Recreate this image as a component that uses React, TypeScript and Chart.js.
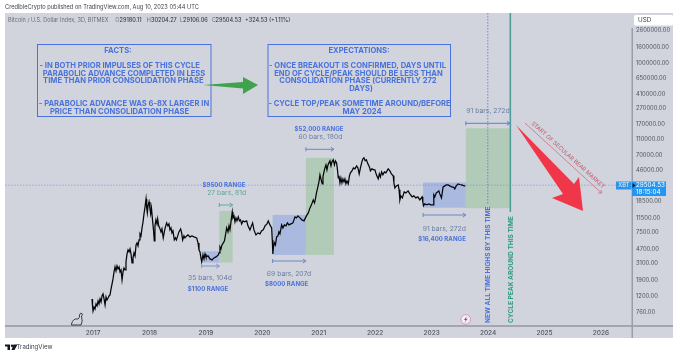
import React, { useEffect, useRef } from "react";
import { Chart, registerables } from "chart.js";

Chart.register(...registerables);

const barYear = [2016.982,2016.991,2017.000,2017.018,2017.035,2017.053,2017.071,2017.089,2017.106,2017.124,2017.142,2017.159,2017.177,2017.195,2017.213,2017.230,2017.248,2017.266,2017.283,2017.301,2017.319,2017.337,2017.354,2017.372,2017.390,2017.407,2017.425,2017.443,2017.461,2017.478,2017.496,2017.514,2017.531,2017.549,2017.567,2017.584,2017.602,2017.620,2017.638,2017.655,2017.673,2017.691,2017.708,2017.726,2017.744,2017.762,2017.779,2017.797,2017.815,2017.832,2017.850,2017.868,2017.886,2017.903,2017.921,2017.939,2017.951,2017.962,2017.974,2017.992,
2018.009,2018.021,2018.035,2018.057,2018.071,2018.085,2018.097,2018.115,2018.133,2018.145,2018.163,2018.181,2018.204,2018.221,2018.244,2018.266,2018.283,2018.304,2018.327,2018.345,2018.363,2018.381,2018.398,2018.416,2018.440,2018.460,2018.478,2018.500,2018.522,2018.552,2018.570,2018.588,2018.611,2018.629,2018.659,2018.682,2018.718,2018.753,2018.789,2018.836,2018.860,2018.877,2018.895,2018.912,2018.925,2018.948,2018.966,2018.984,
2019.001,2019.037,2019.072,2019.108,2019.143,2019.179,2019.220,2019.232,2019.249,2019.267,2019.285,2019.308,2019.329,2019.347,2019.368,2019.391,2019.409,2019.426,2019.444,2019.467,2019.479,2019.497,2019.515,2019.532,2019.550,2019.573,2019.594,2019.612,2019.633,2019.656,2019.683,2019.722,2019.745,2019.780,2019.807,2019.828,2019.851,2019.887,2019.922,2019.958,2019.985,
2020.016,2020.047,2020.082,2020.105,2020.135,2020.165,2020.176,2020.186,2020.197,2020.214,2020.232,2020.253,2020.276,2020.294,2020.312,2020.342,2020.365,2020.391,2020.418,2020.445,2020.471,2020.507,2020.542,2020.578,2020.604,2020.631,2020.667,2020.702,2020.738,2020.764,2020.791,2020.814,2020.844,2020.870,2020.902,2020.924,2020.941,2020.959,2020.980,
2021.003,2021.021,2021.038,2021.061,2021.074,2021.092,2021.109,2021.127,2021.145,2021.163,2021.180,2021.198,2021.216,2021.233,2021.256,2021.278,2021.295,2021.316,2021.331,2021.345,2021.357,2021.375,2021.392,2021.410,2021.428,2021.446,2021.463,2021.481,2021.499,2021.522,2021.543,2021.561,2021.587,2021.614,2021.641,2021.670,2021.693,2021.716,2021.738,2021.764,2021.782,2021.800,2021.822,2021.844,2021.870,2021.897,2021.915,2021.941,2021.977,2021.994,
2022.021,2022.053,2022.074,2022.092,2022.113,2022.136,2022.163,2022.189,2022.230,2022.260,2022.287,2022.319,2022.331,2022.349,2022.375,2022.407,2022.423,2022.437,2022.455,2022.481,2022.513,2022.542,2022.583,2022.613,2022.654,2022.684,2022.719,2022.755,2022.790,2022.831,2022.843,2022.855,2022.878,2022.914,2022.949,2022.985,
2023.026,2023.038,2023.056,2023.082,2023.109,2023.127,2023.144,2023.174,2023.203,2023.233,2023.259,2023.291,2023.321,2023.356,2023.392,2023.409,2023.436,2023.468,2023.498,2023.533,2023.574,2023.586];

const barClose = [1107,904,782,878,829,958,904,1045,958,1107,1015,1207,1279,1107,930,1173,1075,1139,1207,1243,1478,1708,1973,2415,2790,2486,2872,2633,2790,2415,2558,1917,2415,2711,2558,3223,4061,4558,4303,4692,4061,3132,3618,4180,3833,5266,5579,5116,6084,7235,6829,8603,10230,12888,15775,19874,15326,13266,16237,18224,
14890,12888,15326,10230,8120,5911,9115,10838,9656,11156,9115,8603,7665,8359,6446,7890,8855,9939,9115,9656,8120,8603,7447,7890,6084,6446,6084,6829,7665,8359,7447,6084,6829,6446,6829,7029,6635,6829,6635,6446,5579,4558,4303,3618,3223,3945,3515,4061,
3724,3833,3515,3415,3618,3724,3945,4180,4971,4692,5266,5579,5911,7029,8603,7665,9115,8120,10230,13654,11483,12165,10230,11483,10530,11819,10530,10838,9656,10530,10230,10530,9115,8120,9115,9939,8120,7029,7447,7235,7890,
8120,9115,9656,10530,9382,8603,6084,4061,4971,5579,5266,6635,6829,7665,7235,9382,8603,9382,9115,9939,9382,9656,9939,11819,11483,12165,11483,10838,10530,11483,12522,13266,15326,16713,19307,17706,19874,23633,27303,
32468,39740,35405,30646,37510,43338,48645,53044,45915,53044,56198,59539,51537,57848,61287,53044,59539,56198,45915,36444,38611,31543,36444,31543,35405,32468,35405,30646,33418,30646,38611,42103,44606,48645,47258,51537,48645,40906,48645,57848,63079,64931,59539,61287,54601,50068,44606,47258,45915,45915,
39740,35405,40906,37510,43338,39740,43338,42103,47258,44606,40906,38611,31543,27303,28927,29773,25771,19307,21671,20455,24325,23633,25037,22960,21055,21671,20455,21055,19307,21055,18224,16237,17202,16713,17202,16713,
16713,22307,21055,23633,24325,25037,22960,20455,28102,28927,29773,29773,28927,28102,27700,26526,28927,30646,30100,29773,28927,29504.53];

const yearTicks = [2017, 2018, 2019, 2020, 2021, 2022, 2023, 2024, 2025, 2026];
const priceTicks = [2600000, 1600000, 1000000, 650000, 410000, 270000, 170000, 110000, 70000, 46000, 18500, 11500, 7500, 4700, 3100, 1900, 1200, 760];
const lastPrice = 29504.53;

const rangeBoxStart = [2018.925, 2019.237, 2020.182, 2020.772, 2022.849, 2023.606];
const rangeBoxEnd = [2019.237, 2019.474, 2020.772, 2021.268, 2023.606, 2024.385];
const rangeBoxHigh = [4382, 14055, 12522, 64931, 31900, 152400];
const rangeBoxLow = [3160, 3160, 3945, 3945, 15400, 15200];
const rangeBoxKind = ["blue", "green", "blue", "green", "blue", "green"];

const athYear = 2023.995;
const peakYear = 2024.394;

const factsLines: [string, number, number][] = [
  ["FACTS:", 118, 51],
  ["- IN BOTH PRIOR IMPULSES OF THIS CYCLE", 119.7, 66],
  ["PARABOLIC ADVANCE COMPLETED IN LESS", 124, 73.5],
  ["TIME THAN PRIOR CONSOLIDATION PHASE", 123.3, 81],
  ["- PARABOLIC ADVANCE WAS 6-8X LARGER IN", 124, 104],
  ["PRICE THAN CONSOLIDATION PHASE", 119.5, 112],
];
const expectationLines: [string, number, number][] = [
  ["EXPECTATIONS:", 359, 51],
  ["- ONCE BREAKOUT IS CONFIRMED, DAYS UNTIL", 357.5, 66],
  ["END OF CYCLE/PEAK SHOULD BE LESS THAN", 358.5, 73.5],
  ["CONSOLIDATION PHASE (CURRENTLY 272", 358, 81],
  ["DAYS)", 361, 89],
  ["- CYCLE TOP/PEAK SOMETIME AROUND/BEFORE", 359.5, 104],
  ["MAY 2024", 362, 112],
];
const rangeLabels: [string, number, number][] = [
  ["$1100 RANGE", 208, 289],
  ["$9500 RANGE", 224, 185],
  ["$8000 RANGE", 286.7, 283.7],
  ["$52,000 RANGE", 319, 129],
  ["$16,400 RANGE", 442, 239],
];
const barLabels: [string, number, number, string][] = [
  ["35 bars, 104d", 210, 278, "#6a7ea3"],
  ["27 bars, 81d", 226.7, 193, "#5fa69c"],
  ["69 bars, 207d", 289, 274, "#6a7ea3"],
  ["60 bars, 180d", 320.5, 137.3, "#6a7ea3"],
  ["91 bars, 272d", 444.3, 228.7, "#6a7ea3"],
  ["91 bars, 272d", 488, 111, "#6a7ea3"],
];

const FONT = "Inter, 'Noto Sans', sans-serif";
const BLUE = "#4a72dc";
const TEAL = "#2f9a84";

function App() {
  const ref = useRef<HTMLCanvasElement | null>(null);
  useEffect(() => {
    if (!ref.current) return;

    const text = (c: CanvasRenderingContext2D, s: string, x: number, y: number, font: string, color: string, align: CanvasTextAlign = "center") => {
      c.font = font;
      c.fillStyle = color;
      c.textAlign = align;
      c.textBaseline = "middle";
      c.fillText(s, x, y);
    };
    const fit = (c: CanvasRenderingContext2D, s: string, weight: number, width: number) => {
      c.font = `${weight} 10px ${FONT}`;
      const size = (10 * width) / c.measureText(s).width;
      return `${weight} ${size}px ${FONT}`;
    };
    const spanArrow = (c: CanvasRenderingContext2D, x0: number, x1: number, y: number, color: string) => {
      c.strokeStyle = color;
      c.lineWidth = 1;
      c.beginPath();
      c.moveTo(x0, y - 2);
      c.lineTo(x0, y + 2);
      c.moveTo(x0, y);
      c.lineTo(x1, y);
      c.moveTo(x1 - 3, y - 2);
      c.lineTo(x1, y);
      c.lineTo(x1 - 3, y + 2);
      c.stroke();
    };
    const poly = (c: CanvasRenderingContext2D, pts: number[][], color: string) => {
      c.fillStyle = color;
      c.beginPath();
      pts.forEach(([x, y], i) => (i ? c.lineTo(x, y) : c.moveTo(x, y)));
      c.closePath();
      c.fill();
    };

    const underlay = {
      id: "underlay",
      beforeDraw(ch: any) {
        const c = ch.ctx as CanvasRenderingContext2D;
        c.save();
        c.fillStyle = "#ffffff";
        c.fillRect(0, 0, 680, 356);
        c.fillStyle = "#d1d4dc";
        c.fillRect(5, 13, 668, 325);
        c.restore();
      },
      beforeDatasetsDraw(ch: any) {
        const c = ch.ctx as CanvasRenderingContext2D;
        const xs = ch.scales.x;
        const ys = ch.scales.y;
        c.save();
        rangeBoxKind.forEach((k, i) => {
          const x0 = xs.getPixelForValue(rangeBoxStart[i]);
          const x1 = xs.getPixelForValue(rangeBoxEnd[i]);
          const y0 = ys.getPixelForValue(rangeBoxHigh[i]);
          const y1 = ys.getPixelForValue(rangeBoxLow[i]);
          c.fillStyle = k === "blue" ? "#a9b9df" : "#b2cbb8";
          c.fillRect(x0, y0, x1 - x0, y1 - y0);
        });
        const py = ys.getPixelForValue(lastPrice);
        c.strokeStyle = "rgba(74,120,220,0.45)";
        c.lineWidth = 1;
        c.setLineDash([1.5, 1.5]);
        c.beginPath();
        c.moveTo(5, py);
        c.lineTo(632, py);
        c.stroke();
        const ax = xs.getPixelForValue(athYear);
        c.strokeStyle = "rgba(74,114,220,0.75)";
        c.beginPath();
        c.moveTo(ax, 13);
        c.lineTo(ax, 205);
        c.stroke();
        c.setLineDash([]);
        c.restore();
      },
      afterDatasetsDraw(ch: any) {
        const c = ch.ctx as CanvasRenderingContext2D;
        const xs = ch.scales.x;
        c.save();

        const px = xs.getPixelForValue(peakYear);
        c.strokeStyle = "#4f9e95";
        c.lineWidth = 1.6;
        c.beginPath();
        c.moveTo(px, 13);
        c.lineTo(px, 212);
        c.stroke();

        // axis lines
        c.fillStyle = "#a3a6ae";
        c.fillRect(5, 325, 668, 2);
        c.fillStyle = "#9a9da6";
        c.fillRect(631.5, 28, 1.5, 310);

        // header
        const head = "CredibleCrypto published on TradingView.com, Aug 10, 2023 05:44 UTC";
        text(c, head, 5, 7.5, fit(c, head, 400, 194), "#3c3f48", "left");
        const legend: [string, string, number][] = [
          ["Bitcoin / U.S. Dollar Index, 3D, BITMEX", "#6a6d78", 8],
          ["O", "#6a6d78", 115.2],
          ["29180.11", "#3a3d47", 119.5],
          ["H", "#6a6d78", 146.7],
          ["30204.27", "#3a3d47", 151],
          ["L", "#6a6d78", 180],
          ["29106.06", "#3a3d47", 183],
          ["C", "#6a6d78", 211.7],
          ["29504.53", "#3a3d47", 215.5],
          ["+324.53 (+1.11%)", "#3a3d47", 245],
        ];
        legend.forEach(([s, col, x]) => text(c, s, x, 20.5, `${col === "#3a3d47" ? 500 : 400} 5.55px ${FONT}`, col, "left"));

        // boxes
        c.strokeStyle = BLUE;
        c.lineWidth = 1;
        c.strokeRect(37.5, 44.5, 173.5, 72);
        c.strokeRect(268, 44.5, 182.5, 72);
        factsLines.forEach(([s, x, y]) => text(c, s, x, y, `700 7.6px ${FONT}`, BLUE));
        expectationLines.forEach(([s, x, y]) => text(c, s, x, y, `700 7.6px ${FONT}`, BLUE));

        // green arrow
        poly(c, [[203, 85], [243, 82], [243, 77], [258, 85], [243, 94], [243, 88.5]], "#3fa34d");

        // span arrows, from the range boxes
        const edge = (v: number) => xs.getPixelForValue(v);
        spanArrow(c, edge(rangeBoxStart[0]), edge(rangeBoxEnd[0]), 266, "#7f95c8");
        spanArrow(c, edge(rangeBoxStart[1]), edge(rangeBoxEnd[1]), 205, "#63a99d");
        spanArrow(c, edge(rangeBoxStart[2]), edge(rangeBoxEnd[2]), 261, "#6a86c8");
        spanArrow(c, edge(rangeBoxStart[3]), edge(rangeBoxEnd[3]), 149.3, "#6a86c8");
        spanArrow(c, edge(rangeBoxStart[4]), edge(rangeBoxEnd[4]), 215, "#6a86c8");
        spanArrow(c, edge(rangeBoxStart[5]), edge(rangeBoxEnd[5]), 123.3, "#5a7ed8");

        rangeLabels.forEach(([s, x, y]) => text(c, s, x, y, `700 6.1px ${FONT}`, BLUE));
        barLabels.forEach(([s, x, y, col]) => text(c, s, x, y, `400 6.8px ${FONT}`, col));

        // vertical captions
        const cap1 = "NEW ALL TIME HIGHS BY THIS TIME";
        const cap2 = "CYCLE PEAK AROUND THIS TIME";
        c.save();
        c.translate(488, 323);
        c.rotate(-Math.PI / 2);
        text(c, cap1, 0, 0, fit(c, cap1, 700, 117), BLUE, "left");
        c.restore();
        c.save();
        c.translate(511, 323);
        c.rotate(-Math.PI / 2);
        text(c, cap2, 0, 0, fit(c, cap2, 700, 107), TEAL, "left");
        c.restore();

        // red arrow
        poly(c, [[516, 125], [574, 184], [579, 177], [583, 211], [552, 198], [563, 194]], "#f0374a");

        // bear-market caption
        c.strokeStyle = "#cf6c7e";
        c.lineWidth = 0.8;
        c.beginPath();
        c.moveTo(525, 123);
        c.lineTo(601.5, 193);
        c.moveTo(598, 193);
        c.lineTo(601.5, 193);
        c.lineTo(601, 190);
        c.stroke();
        const cap3 = "START OF SECULAR BEAR MARKET";
        c.save();
        c.translate(568, 155);
        c.rotate((42 * Math.PI) / 180);
        text(c, cap3, 0, 0, fit(c, cap3, 400, 97), "#c25a6e");
        c.restore();

        // current-price tags
        c.fillStyle = "#2e94e6";
        c.fillRect(616, 181.5, 15.5, 8);
        text(c, "XBT", 623.8, 185.7, `400 5.8px ${FONT}`, "#e8f2fc");
        c.fillStyle = "#2196f3";
        c.fillRect(632, 181.5, 34, 14.5);
        poly(c, [[632.5, 183], [635.5, 185.5], [632.5, 188]], "#131722");
        text(c, "29504.53", 636, 185.5, `400 6.3px ${FONT}`, "#ffffff", "left");
        text(c, "18:15:04", 636, 192, `400 6.3px ${FONT}`, "#ffffff", "left");

        // USD chip
        c.fillStyle = "#ffffff";
        c.beginPath();
        c.roundRect(634, 15, 39, 10.5, 1.5);
        c.fill();
        text(c, "USD", 638, 20.5, `400 6.3px ${FONT}`, "#3a3d47", "left");

        // dino
        c.strokeStyle = "#2a2e39";
        c.lineWidth = 0.9;
        c.beginPath();
        c.moveTo(71.5, 324);
        c.quadraticCurveTo(73, 318, 78, 319);
        c.quadraticCurveTo(80, 318, 79.5, 315);
        c.quadraticCurveTo(80, 312.5, 82, 313.5);
        c.quadraticCurveTo(83, 315, 81.5, 316);
        c.quadraticCurveTo(83, 322, 81, 325);
        c.lineTo(71.5, 325);
        c.closePath();
        c.stroke();

        // flash badge
        c.fillStyle = "#f4eef4";
        c.strokeStyle = "#c887c8";
        c.lineWidth = 0.8;
        c.beginPath();
        c.arc(465.7, 319.4, 4.8, 0, Math.PI * 2);
        c.fill();
        c.stroke();
        poly(c, [[467, 316], [464, 320], [465.8, 320], [464.5, 323], [467.6, 318.8], [465.8, 318.8]], "#a0349a");

        // footer logo
        poly(c, [[5, 344.5], [10, 344.5], [10, 350], [7.5, 350], [7.5, 346.5], [5, 346.5]], "#131722");
        poly(c, [[13.5, 344.5], [17.5, 344.5], [14.5, 350], [11.5, 350]], "#131722");
        c.fillStyle = "#131722";
        c.beginPath();
        c.arc(12, 345.7, 1.2, 0, Math.PI * 2);
        c.fill();
        const brand = "TradingView";
        text(c, brand, 16.5, 347.5, fit(c, brand, 400, 36), "#3c3f48", "left");

        c.restore();
      },
    };

    const chart = new Chart(ref.current, {
      type: "line",
      data: {
        datasets: [
          {
            data: barYear.map((x, i) => ({ x, y: barClose[i] })),
            borderColor: "#050608",
            borderWidth: 1.25,
            pointRadius: 0,
            tension: 0,
          },
        ],
      },
      options: {
        responsive: false,
        animation: false,
        layout: { padding: { left: 5, top: 13, right: 0, bottom: 0 } },
        plugins: { legend: { display: false }, tooltip: { enabled: false } },
        scales: {
          x: {
            type: "linear",
            min: 2015.44,
            max: 2026.55,
            afterBuildTicks: (s: any) => {
              s.ticks = yearTicks.map((value) => ({ value }));
            },
            afterFit: (s: any) => {
              s.height = 30;
            },
            grid: { display: false, drawTicks: false },
            border: { display: false },
            ticks: {
              autoSkip: false,
              maxRotation: 0,
              padding: 3,
              color: "#50535e",
              font: { family: FONT, size: 6.5, weight: 500 },
              callback: (v: any) => String(v),
            },
          },
          y: {
            type: "logarithmic",
            position: "right",
            min: 507,
            max: 4246000,
            afterBuildTicks: (s: any) => {
              s.ticks = priceTicks.map((value) => ({ value }));
            },
            afterFit: (s: any) => {
              s.width = 48;
            },
            grid: { display: false, drawTicks: false },
            border: { display: false },
            ticks: {
              autoSkip: false,
              padding: 4,
              color: "#50535e",
              font: { family: FONT, size: 5.8 },
              callback: (v: any) => Number(v).toFixed(2),
            },
          },
        },
      },
      plugins: [underlay],
    } as any);
    return () => chart.destroy();
  }, []);
  return (
    <div style={{ position: "fixed", left: 0, top: 0, width: 680, height: 356 }}>
      <canvas ref={ref} width={680} height={356} style={{ display: "block", width: 680, height: 356, filter: "blur(0.35px)" }} />
    </div>
  );
}

export default App;
